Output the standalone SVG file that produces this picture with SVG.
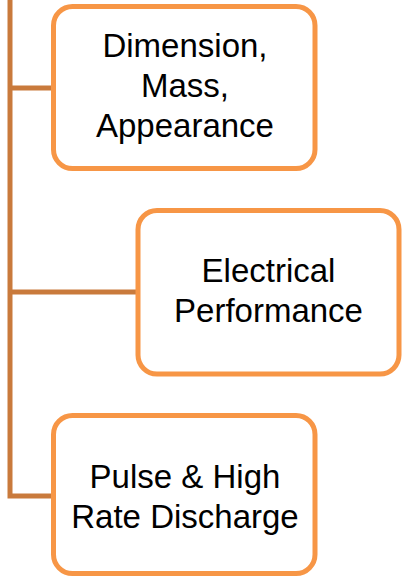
<svg xmlns="http://www.w3.org/2000/svg" width="403" height="577" viewBox="0 0 403 577">
<style>
.box{fill:#fff;stroke:#F79646;stroke-width:5}
.conn{fill:none;stroke:#C97A3C;stroke-width:5}
.t{font-family:"Liberation Sans",Arial,sans-serif;font-size:33px;fill:#000;text-anchor:middle}
</style>
<rect width="403" height="577" fill="#fff"/>
<g id="connectors">
<path class="conn" d="M10 0 V496 H53"/>
<path class="conn" d="M10 88 H53"/>
<path class="conn" d="M10 292 H138"/>
</g>
<g id="node1">
<rect class="box" x="53.5" y="6.5" width="261.5" height="162" rx="19"/>
<text class="t" x="185" y="57">Dimension,</text>
<text class="t" x="185" y="97">Mass,</text>
<text class="t" x="185" y="137">Appearance</text>
</g>
<g id="node2">
<rect class="box" x="138" y="210.5" width="261" height="163.5" rx="19"/>
<text class="t" x="268.5" y="282">Electrical</text>
<text class="t" x="268.5" y="322">Performance</text>
</g>
<g id="node3">
<rect class="box" x="53.5" y="415.5" width="261.5" height="158" rx="19"/>
<text class="t" x="185" y="488">Pulse &amp; High</text>
<text class="t" x="185" y="528">Rate Discharge</text>
</g>
</svg>
